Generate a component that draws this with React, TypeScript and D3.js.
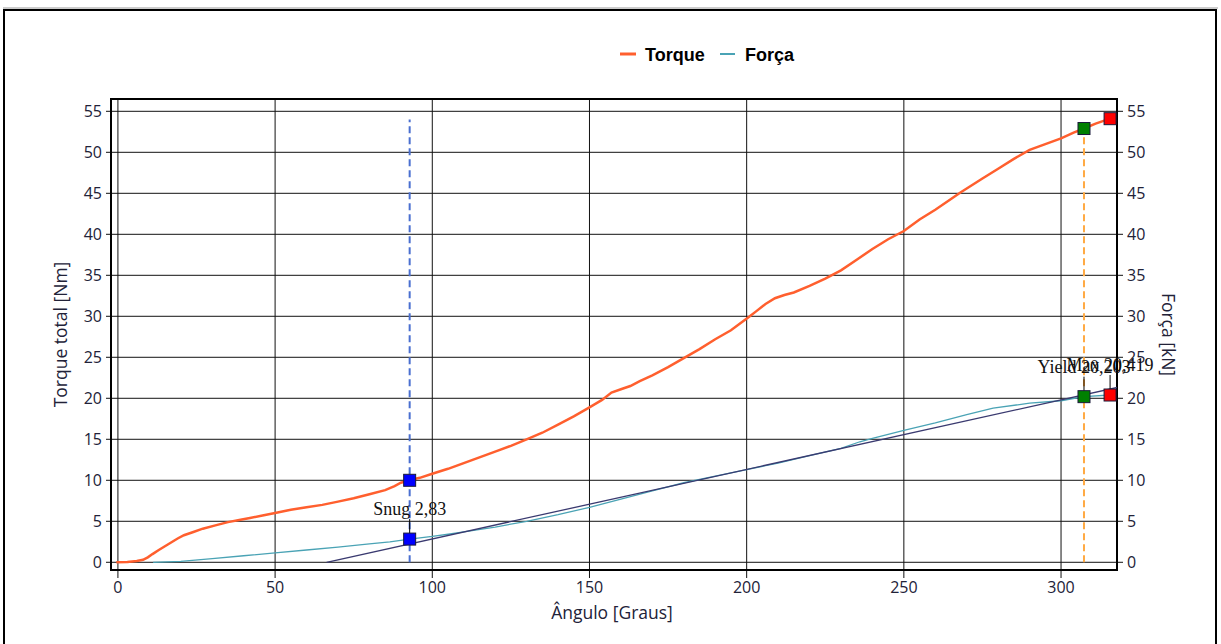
import React from "react";
import * as d3 from "d3";

// Torque total [Nm] vs Ângulo [Graus]
const torque: [number, number][] = [
  [-0.5, 0], [3, 0.05], [6, 0.15], [8, 0.3], [9.5, 0.6], [11, 1.0], [13, 1.5], [16, 2.2],
  [19, 2.9], [21, 3.3], [24, 3.7], [27, 4.1], [31, 4.5], [35, 4.9], [39, 5.2], [42, 5.4],
  [46, 5.7], [50, 6.0], [55, 6.4], [60, 6.7], [65, 7.0], [70, 7.4], [75, 7.8], [80, 8.3],
  [85, 8.8], [88, 9.3], [90, 9.7], [92.8, 10.0], [96, 10.3], [100, 10.8], [105, 11.4],
  [110, 12.1], [115, 12.8], [120, 13.5], [125, 14.2], [130, 15.0], [135, 15.8], [140, 16.8],
  [145, 17.8], [150, 18.9], [154, 19.8], [157, 20.7], [160, 21.1], [163, 21.5], [166, 22.1],
  [170, 22.8], [175, 23.8], [180, 24.9], [185, 26.0], [190, 27.2], [195, 28.3], [201, 30.0],
  [203, 30.6], [206, 31.5], [209, 32.2], [212, 32.6], [215, 32.9], [220, 33.7], [225, 34.6],
  [230, 35.6], [235, 36.9], [240, 38.2], [245, 39.4], [250, 40.4], [255, 41.8], [260, 43.0],
  [265, 44.3], [268, 45.1], [275, 46.8], [280, 48.0], [285, 49.2], [290, 50.3], [295, 51.0],
  [300, 51.7], [304, 52.4], [307.3, 52.9], [311, 53.5], [315.6, 54.1],
];

// Força [kN] vs Ângulo
const forca: [number, number][] = [
  [11.2, 0], [20, 0.1], [30, 0.45], [40, 0.8], [50, 1.15], [60, 1.5], [70, 1.85], [80, 2.25],
  [86.5, 2.5], [92.8, 2.83], [100, 3.15], [105.6, 3.45], [110, 3.7], [120, 4.3], [130, 5.0],
  [140, 5.8], [150, 6.7], [160, 7.7], [170, 8.7], [180, 9.7], [190, 10.5], [200, 11.3],
  [210, 12.1], [220, 13.0], [230, 13.9], [236, 14.7], [240, 15.1], [250, 16.1], [260, 17.0],
  [270, 18.0], [278.4, 18.8], [290, 19.4], [300, 19.7], [307.3, 20.2], [315.6, 20.4],
];

// elastic line used to find the yield point
const elastic: [number, number][] = [[66.4, 0], [320, 21.5]];

const snug = { angle: 92.8, torque: 10.0, force: 2.83, label: "Snug 2,83" };
const yieldPt = { angle: 307.3, torque: 52.9, force: 20.2, label: "Yield 20,203" };
const maxPt = { angle: 315.6, torque: 54.1, force: 20.4, label: "Max 20,419" };

const xTicks = [0, 50, 100, 150, 200, 250, 300];
const yTicks = [0, 5, 10, 15, 20, 25, 30, 35, 40, 45, 50, 55];

const W = 1221;
const H = 644;
const L = 111, R = 1117, T = 99, B = 570;

const sans = "'Open Sans', 'Liberation Sans', sans-serif";
const arial = "'Liberation Sans', Arial, sans-serif";
const serif = "'Liberation Serif', 'Times New Roman', serif";

export default function App() {
  const x = d3.scaleLinear().domain([-2.2, 317.8]).range([L, R]);
  const y = d3.scaleLinear().domain([-0.94, 56.5]).range([B, T]);
  const line = d3.line<[number, number]>().x((d) => x(d[0])).y((d) => y(d[1]));

  const marker = (cx: number, cy: number, fill: string, key: string) => (
    <rect key={key} x={cx - 6} y={cy - 6} width={12} height={12} fill={fill} stroke="#1a1a3a" strokeWidth={1} />
  );

  const annotation = (p: { angle: number; force: number; label: string }, key: string) => {
    const cx = x(p.angle);
    const cy = y(p.force);
    return (
      <g key={key}>
        <line x1={cx} x2={cx} y1={cy - 20} y2={cy - 6} stroke="#000" strokeWidth={1} />
        <text x={cx} y={cy - 24} textAnchor="middle" fontFamily={serif} fontSize={18} fill="#111">
          {p.label}
        </text>
      </g>
    );
  };

  return (
    <svg width={W} height={H} style={{ position: "absolute", left: 0, top: 0, background: "#fff" }}>
      <defs>
        <clipPath id="plot">
          <rect x={L} y={T} width={R - L} height={B - T} />
        </clipPath>
      </defs>
      {/* outer border */}
      <line x1={3} x2={1218} y1={8} y2={8} stroke="#999" strokeWidth={1} />
      <rect x={4} y={10} width={1212} height={700} fill="none" stroke="#000" strokeWidth={2} />

      {/* legend */}
      <g fontFamily={arial} fontWeight="bold" fontSize={18}>
        <line x1={620} x2={636} y1={54} y2={54} stroke="#ff5f2e" strokeWidth={3} />
        <text x={645} y={61}>Torque</text>
        <line x1={720} x2={735} y1={54} y2={54} stroke="#4aa3b5" strokeWidth={2} />
        <text x={745} y={61}>Força</text>
      </g>

      {/* grid */}
      <g stroke="#111" strokeWidth={1}>
        {xTicks.map((t) => (
          <line key={"gx" + t} x1={x(t)} x2={x(t)} y1={T} y2={B + 8} />
        ))}
        {yTicks.map((t) => (
          <line key={"gy" + t} x1={L - 5} x2={R + 6} y1={y(t)} y2={y(t)} />
        ))}
      </g>
      <rect x={L} y={T} width={R - L} height={B - T} fill="none" stroke="#000" strokeWidth={2} />

      {/* tick labels */}
      <g fontFamily={sans} fontSize={16} fill="#222238">
        {xTicks.map((t) => (
          <text key={"tx" + t} x={x(t)} y={593} textAnchor="middle">{t}</text>
        ))}
        {yTicks.map((t) => (
          <text key={"ty" + t} x={102} y={y(t) + 5.5} textAnchor="end">{t}</text>
        ))}
        {yTicks.map((t) => (
          <text key={"tr" + t} x={1127} y={y(t) + 5.5} textAnchor="start">{t}</text>
        ))}
      </g>

      {/* axis titles */}
      <g fontFamily={sans} fontSize={17.5} fill="#222238">
        <text x={612} y={619} textAnchor="middle">Ângulo [Graus]</text>
        <text transform={`translate(67,${(T + B) / 2}) rotate(-90)`} textAnchor="middle">Torque total [Nm]</text>
        <text transform={`translate(1162,${(T + B) / 2}) rotate(90)`} textAnchor="middle">Força [kN]</text>
      </g>

      <g clipPath="url(#plot)" fill="none">
        {/* dashed markers */}
        <line x1={x(snug.angle)} x2={x(snug.angle)} y1={y(0)} y2={y(54)} stroke="#4a6fd0" strokeWidth={2} strokeDasharray="7,4" />
        <line x1={x(yieldPt.angle)} x2={x(yieldPt.angle)} y1={y(0)} y2={y(yieldPt.torque)} stroke="#ffaa44" strokeWidth={2} strokeDasharray="7,4" />
        <path d={line(forca) || ""} stroke="#4aa3b5" strokeWidth={1.3} />
        <path d={line(elastic) || ""} stroke="#3a3a70" strokeWidth={1.3} />
        <path d={line(torque) || ""} stroke="#ff5f2e" strokeWidth={2.5} />
      </g>

      {annotation(snug, "a-snug")}
      {annotation(yieldPt, "a-yield")}
      {annotation(maxPt, "a-max")}

      {marker(x(snug.angle), y(snug.torque), "#0000ff", "m1")}
      {marker(x(snug.angle), y(snug.force), "#0000ff", "m2")}
      {marker(x(yieldPt.angle), y(yieldPt.torque), "#008000", "m3")}
      {marker(x(yieldPt.angle), y(yieldPt.force), "#008000", "m4")}
      {marker(x(maxPt.angle), y(maxPt.torque), "#ff0000", "m5")}
      {marker(x(maxPt.angle), y(maxPt.force), "#ff0000", "m6")}
    </svg>
  );
}
